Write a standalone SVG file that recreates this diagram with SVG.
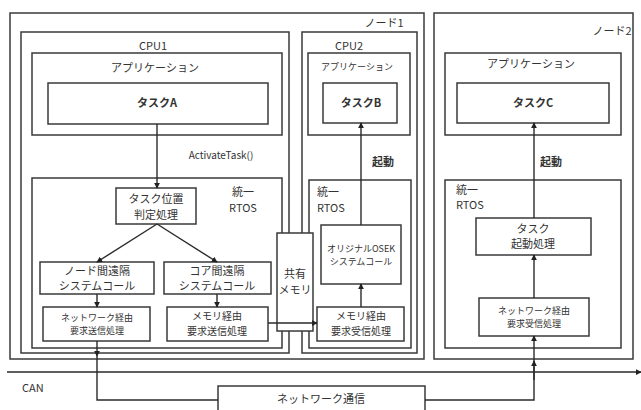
<svg xmlns="http://www.w3.org/2000/svg" width="641" height="410" viewBox="0 0 641 410">
<defs>
<style>
.b{fill:none;stroke:#3a3a3a;stroke-width:1.5}
.w{fill:#fff;stroke:#3a3a3a;stroke-width:1.5}
.c{fill:none;stroke:#2a2a2a;stroke-width:1.4}
text{font-family:"Noto Sans CJK JP","Noto Sans",sans-serif;fill:#333;font-size:11px}
.m{text-anchor:middle}
.s{font-size:9px}
.t{font-size:10px}
.bd{font-weight:bold}
</style>
<marker id="a" viewBox="0 0 8 8" refX="7" refY="4" markerWidth="6" markerHeight="6" orient="auto" markerUnits="userSpaceOnUse">
<path d="M0,0 L8,4 L0,8 Z" fill="#222"/>
</marker>
</defs>
<rect width="641" height="410" fill="#fff"/>

<g id="node1">
<rect class="b" x="10" y="13" width="414" height="346"/>
<text x="384" y="27" class="m">ノード1</text>
</g>
<g id="cpu1">
<rect class="b" x="21" y="32" width="268" height="321"/>
<text x="153" y="50" class="m">CPU1</text>
</g>
<g id="app1">
<rect class="b" x="32" y="53" width="250" height="82"/>
<text x="155" y="72" class="m">アプリケーション</text>
</g>
<g id="taskA">
<rect class="b" x="48" y="83" width="220" height="41"/>
<text x="157" y="107" class="m bd">タスクA</text>
</g>
<g id="rtos1">
<rect class="b" x="32" y="178" width="250" height="170"/>
<text x="243" y="196" class="m">統一</text>
<text x="243" y="212" class="m">RTOS</text>
</g>
<g id="judge">
<rect class="b" x="116" y="188" width="80" height="36"/>
<text x="156" y="203" class="m">タスク位置</text>
<text x="156" y="219" class="m">判定処理</text>
</g>
<g id="nodeCall">
<rect class="b" x="40" y="262" width="114" height="32"/>
<text x="97" y="275" class="m">ノード間遠隔</text>
<text x="97" y="290" class="m">システムコール</text>
</g>
<g id="coreCall">
<rect class="b" x="164" y="262" width="107" height="32"/>
<text x="217" y="275" class="m">コア間遠隔</text>
<text x="217" y="290" class="m">システムコール</text>
</g>
<g id="netSend">
<rect class="b" x="43" y="307" width="107" height="34"/>
<text x="97" y="321" class="m s">ネットワーク経由</text>
<text x="97" y="334" class="m s">要求送信処理</text>
</g>
<g id="memSend">
<rect class="b" x="167" y="307" width="101" height="34"/>
<text x="217" y="320" class="m t">メモリ経由</text>
<text x="217" y="335" class="m t">要求送信処理</text>
</g>
<g id="cpu2">
<rect class="b" x="302" y="32" width="115" height="321"/>
<text x="349" y="50" class="m">CPU2</text>
</g>
<g id="app2">
<rect class="b" x="308" y="53" width="102" height="82"/>
<text x="357" y="70" class="m s">アプリケーション</text>
</g>
<g id="taskB">
<rect class="b" x="323" y="83" width="74" height="40"/>
<text x="361" y="107" class="m bd">タスクB</text>
</g>
<g id="rtos2">
<rect class="b" x="309" y="180" width="102" height="168"/>
<text x="317" y="196">統一</text>
<text x="317" y="212">RTOS</text>
</g>
<g id="osek">
<rect class="w" x="321" y="225" width="80" height="59"/>
<text x="361" y="252" class="m s">オリジナルOSEK</text>
<text x="361" y="265" class="m s">システムコール</text>
</g>
<g id="memRecv">
<rect class="b" x="317" y="307" width="87" height="34"/>
<text x="361" y="320" class="m t">メモリ経由</text>
<text x="361" y="335" class="m t">要求受信処理</text>
</g>
<g id="shm">
<rect class="w" x="277" y="233" width="36" height="98"/>
<text x="295" y="278" class="m">共有</text>
<text x="295" y="294" class="m">メモリ</text>
</g>
<g id="node2">
<rect class="b" x="434" y="13" width="199" height="346"/>
<text x="612" y="35" class="m">ノード2</text>
</g>
<g id="app3">
<rect class="b" x="445" y="53" width="176" height="82"/>
<text x="531" y="68" class="m">アプリケーション</text>
</g>
<g id="taskC">
<rect class="b" x="457" y="83" width="152" height="40"/>
<text x="533" y="107" class="m bd">タスクC</text>
</g>
<g id="rtos3">
<rect class="b" x="445" y="180" width="176" height="168"/>
<text x="456" y="194">統一</text>
<text x="456" y="209">RTOS</text>
</g>
<g id="startProc">
<rect class="w" x="476" y="218" width="115" height="37"/>
<text x="533" y="233" class="m">タスク</text>
<text x="533" y="248" class="m">起動処理</text>
</g>
<g id="netRecv">
<rect class="b" x="479" y="298" width="110" height="38"/>
<text x="534" y="314" class="m s">ネットワーク経由</text>
<text x="534" y="327" class="m s">要求受信処理</text>
</g>
<g id="can">
<text x="22" y="392">CAN</text>
</g>
<g id="netComm">
<rect class="b" x="218" y="386" width="207" height="30"/>
<text x="321" y="403" class="m">ネットワーク通信</text>
</g>

<g id="connectors">
<path class="c" d="M157,124 V188" marker-end="url(#a)"/>
<path class="c" d="M157,224 L97,262" marker-end="url(#a)"/>
<path class="c" d="M157,224 L217,262" marker-end="url(#a)"/>
<path class="c" d="M97,294 V307" marker-end="url(#a)"/>
<path class="c" d="M217,294 V307" marker-end="url(#a)"/>
<path class="c" d="M268,323 H317" marker-end="url(#a)"/>
<path class="c" d="M361,307 V284" marker-end="url(#a)"/>
<path class="c" d="M361,225 V123" marker-end="url(#a)"/>
<path class="c" d="M534,298 V255" marker-end="url(#a)"/>
<path class="c" d="M534,218 V123" marker-end="url(#a)"/>
<path class="c" d="M97,341 V356" marker-end="url(#a)"/>
<path class="c" d="M97,356 V400 H218"/>
<path class="c" d="M425,400 H534 V362"/>
<path class="c" d="M534,364 V336" marker-end="url(#a)"/>
<path class="c" d="M534,380 V361" marker-end="url(#a)"/>
<path class="c" d="M7,372 H641" marker-end="url(#a)"/>
<text x="221" y="159" class="m" style="font-size:10px">ActivateTask()</text>
<text x="383" y="166" class="m bd">起動</text>
<text x="551" y="166" class="m bd">起動</text>
</g>
</svg>
